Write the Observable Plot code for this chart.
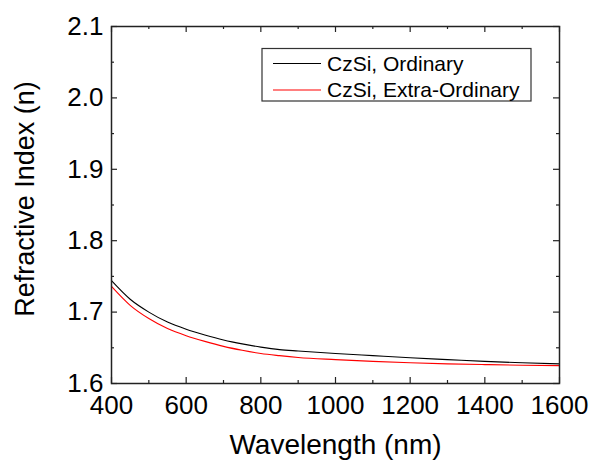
<!DOCTYPE html>
<html><head><meta charset="utf-8">
<script src="https://cdn.jsdelivr.net/npm/d3@7"></script>
<script src="https://cdn.jsdelivr.net/npm/@observablehq/plot@0.6"></script>
<style>
html,body{margin:0;padding:0;background:#fff;}
#chart{width:595px;height:461px;}
</style></head><body><div id="chart"></div>
<script>
const wavelength = [400,450,500,550,600,650,700,750,800,850,900,1000,1100,1200,1300,1400,1500,1600];
const ordinary = [1.744,1.718,1.700,1.686,1.676,1.668,1.661,1.6555,1.651,1.6475,1.6455,1.642,1.639,1.636,1.6335,1.631,1.629,1.6275];
const extraOrdinary = [1.736,1.7095,1.691,1.677,1.667,1.659,1.652,1.6465,1.642,1.639,1.6365,1.6335,1.631,1.629,1.6275,1.6265,1.6255,1.625];
const seriesNames = ["CzSi, Ordinary","CzSi, Extra-Ordinary"];
const seriesColors = ["#000000","#ff0000"];
const xTicks = [400,600,800,1000,1200,1400,1600];
const xTickLabels = ["400","600","800","1000","1200","1400","1600"];
const xMinorTicks = [500,700,900,1100,1300,1500];
const yTicks = [1.6,1.7,1.8,1.9,2.0,2.1];
const yTickLabels = ["1.6","1.7","1.8","1.9","2.0","2.1"];
const yMinorTicks = [1.65,1.75,1.85,1.95,2.05];
const xTitle = "Wavelength (nm)";
const yTitle = "Refractive Index (n)";

const rows = [];
wavelength.forEach((w,i)=>{
  rows.push({wavelength:w, n:ordinary[i], series:seriesNames[0]});
});
wavelength.forEach((w,i)=>{
  rows.push({wavelength:w, n:extraOrdinary[i], series:seriesNames[1]});
});
const xLabelMap = new Map(xTicks.map((d,i)=>[d, xTickLabels[i]]));
const yLabelMap = new Map(yTicks.map((d,i)=>[d, yTickLabels[i]]));

const W=595, H=461, mL=111, mR=36, mT=26, mB=78;
const innerH = H-mT-mB, innerW = W-mL-mR;
const major = 6, minor = 3;
const axisColor = "#222";
const font = 'Arial, "Liberation Sans", sans-serif';

const plot = Plot.plot({
  width: W, height: H,
  marginLeft: mL, marginRight: mR, marginTop: mT, marginBottom: mB,
  style: {fontFamily: font, background: "#fff", color: "#000"},
  x: {domain: [400,1600]},
  y: {domain: [1.6,2.1]},
  color: {domain: seriesNames, range: seriesColors},
  marks: [
    Plot.line(rows, {x:"wavelength", y:"n", z:"series", stroke:"series", curve:"monotone-x", strokeWidth:1.1}),
    Plot.ruleX(xTicks, {insetTop: innerH-major, stroke: axisColor, strokeWidth: 1.2}),
    Plot.ruleX(xTicks, {insetBottom: innerH-major, stroke: axisColor, strokeWidth: 1.2}),
    Plot.ruleX(xMinorTicks, {insetTop: innerH-minor, stroke: axisColor, strokeWidth: 1.2}),
    Plot.ruleX(xMinorTicks, {insetBottom: innerH-minor, stroke: axisColor, strokeWidth: 1.2}),
    Plot.ruleY(yTicks, {insetRight: innerW-major, stroke: axisColor, strokeWidth: 1.2}),
    Plot.ruleY(yTicks, {insetLeft: innerW-major, stroke: axisColor, strokeWidth: 1.2}),
    Plot.ruleY(yMinorTicks, {insetRight: innerW-minor, stroke: axisColor, strokeWidth: 1.2}),
    Plot.ruleY(yMinorTicks, {insetLeft: innerW-minor, stroke: axisColor, strokeWidth: 1.2}),
    Plot.frame({stroke: axisColor, strokeWidth: 1.5}),
    Plot.axisX(xTicks, {tickSize: 0, tickPadding: 12, fontSize: 26, tickFormat: d => xLabelMap.get(d), label: null}),
    Plot.axisY(yTicks, {tickSize: 0, tickPadding: 8, fontSize: 26, tickFormat: d => yLabelMap.get(d), label: null}),
    Plot.axisX([], {tickSize: 0, fontSize: 28, label: xTitle, labelArrow: "none", labelAnchor: "center", labelOffset: 70}),
    Plot.text([yTitle], {text: d => d, frameAnchor: "left", textAnchor: "middle", lineAnchor: "middle", rotate: -90, dx: -86, dy: -6, fontSize: 27, fill: "#000"})
  ]
});
document.getElementById("chart").appendChild(plot);

// legend
const svg = d3.select(plot);
const lg = svg.append("g").attr("font-family", font).attr("font-size", 21).attr("text-anchor", "start");
lg.append("rect").attr("x", 262).attr("y", 48.5).attr("width", 269).attr("height", 52.5)
  .attr("fill", "#fff").attr("stroke", "#333").attr("stroke-width", 1.2);
seriesNames.forEach((name, i) => {
  const cy = 63.5 + i*26.5;
  lg.append("line").attr("x1", 273).attr("x2", 321).attr("y1", cy).attr("y2", cy)
    .attr("stroke", seriesColors[i]).attr("stroke-width", 1.2);
  lg.append("text").attr("x", 327).attr("y", cy).attr("dy", "0.35em").attr("fill", "#000").text(name);
});
</script></body></html>
